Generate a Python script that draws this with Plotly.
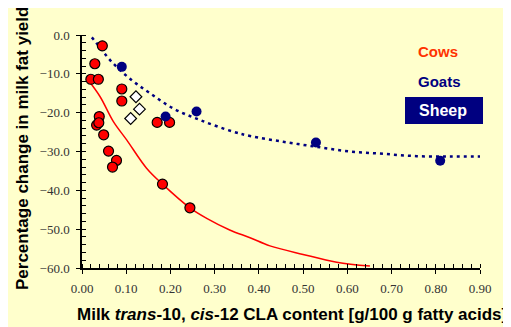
import plotly.graph_objects as go

# Cows
cows_x = [0.046, 0.029, 0.020, 0.037, 0.090, 0.090, 0.039, 0.033, 0.038, 0.049, 0.060,
          0.078, 0.069, 0.182, 0.244, 0.170, 0.198]
cows_y = [-2.8, -7.4, -11.4, -11.4, -13.9, -17.0, -21.0, -23.2, -22.6, -25.7, -29.9,
          -32.3, -34.0, -38.4, -44.5, -22.5, -22.5]
# Goats
goats_x = [0.090, 0.189, 0.259, 0.529, 0.810]
goats_y = [-8.2, -21.0, -19.7, -27.7, -32.4]
# Sheep
sheep_x = [0.122, 0.130, 0.110]
sheep_y = [-15.9, -19.1, -21.5]
# Cow fitted curve
cowfit_x = [0.014, 0.041, 0.071, 0.101, 0.146, 0.182, 0.244, 0.282, 0.334, 0.380, 0.425, 0.500, 0.576, 0.651]
cowfit_y = [-11.6, -15.9, -22.3, -27.0, -34.3, -38.4, -44.5, -47.2, -50.2, -52.2, -54.3, -56.5, -58.5, -59.5]
# Goat fitted curve
goatfit_x = [0.012, 0.033, 0.067, 0.112, 0.154, 0.206, 0.267, 0.342, 0.380, 0.455, 0.531, 0.606, 0.681, 0.757, 0.832, 0.900]
goatfit_y = [0.8, -2.1, -6.9, -11.6, -15.0, -18.9, -21.9, -24.9, -26.0, -27.5, -28.8, -30.0, -30.6, -31.2, -31.3, -31.3]

x_ticks = [0.0, 0.1, 0.2, 0.3, 0.4, 0.5, 0.6, 0.7, 0.8, 0.9]
y_ticks = [0, -10, -20, -30, -40, -50, -60]

BG = "#FFFFCC"
RED = "#FF0000"
NAVY = "#000080"

fig = go.Figure()
fig.add_trace(go.Scatter(x=cowfit_x, y=cowfit_y, mode="lines", line=dict(color=RED, width=1.5, shape="spline"),
                         hoverinfo="skip"))
fig.add_trace(go.Scatter(x=goatfit_x, y=goatfit_y, mode="lines",
                         line=dict(color=NAVY, width=2.5, dash="3px,4px", shape="spline"),
                         hoverinfo="skip"))
fig.add_trace(go.Scatter(x=cows_x, y=cows_y, mode="markers",
                         marker=dict(size=10, color=RED, line=dict(color="black", width=1.2))))
fig.add_trace(go.Scatter(x=goats_x, y=goats_y, mode="markers",
                         marker=dict(size=10, color=NAVY, line=dict(color=NAVY, width=0))))
fig.add_trace(go.Scatter(x=sheep_x, y=sheep_y, mode="markers",
                         marker=dict(size=9, symbol="diamond", color="white", line=dict(color="black", width=1.2))))
# overlay axes for ticks crossing the axis line
fig.add_trace(go.Scatter(x=[0], y=[0], xaxis="x2", yaxis="y2", mode="markers",
                         marker=dict(opacity=0), hoverinfo="skip", showlegend=False))

tickfont = dict(family="Liberation Serif, Times New Roman, serif", size=13, color="#333333")

fig.update_layout(
    width=511, height=327,
    margin=dict(l=74, r=39, t=27, b=67),
    paper_bgcolor=BG, plot_bgcolor=BG,
    showlegend=False,
    xaxis=dict(range=[0, 0.9], tickvals=x_ticks, tickformat=".2f", showgrid=False, zeroline=False,
               showline=True, linecolor="black", linewidth=1.5, automargin=False,
               ticks="outside", ticklen=4, tickcolor="black", tickwidth=1.2,
               minor=dict(dtick=0.02, ticks="inside", ticklen=4, tickcolor="black", tickwidth=1),
               tickfont=tickfont, ticklabelstandoff=4),
    yaxis=dict(range=[-60, 0], tickvals=y_ticks, tickformat=".1f", showgrid=False, zeroline=False,
               showline=True, linecolor="black", linewidth=1.5, automargin=False,
               ticks="outside", ticklen=4, tickcolor="black", tickwidth=1.2,
               minor=dict(dtick=2, ticks="inside", ticklen=4, tickcolor="black", tickwidth=1),
               tickfont=tickfont, ticklabelstandoff=4),
    xaxis2=dict(overlaying="x", matches="x", tickvals=x_ticks, ticks="inside", ticklen=4, tickcolor="black",
                tickwidth=1.2, showticklabels=False, showgrid=False, zeroline=False, showline=False, side="bottom",
                anchor="y", automargin=False),
    yaxis2=dict(overlaying="y", matches="y", tickvals=y_ticks, ticks="inside", ticklen=4, tickcolor="black",
                tickwidth=1.2, showticklabels=False, showgrid=False, zeroline=False, showline=False, side="left",
                anchor="x", automargin=False),
)

fig.add_annotation(text="Percentage change in milk fat yield", xref="paper", yref="paper",
                   x=-(82 - 22) / 398, y=(268 - 149) / 233, xanchor="center", yanchor="middle", textangle=-90,
                   showarrow=False,
                   font=dict(family="Liberation Sans", size=17, color="black", weight="bold"))
fig.add_annotation(text="Milk <i>trans</i>-10, <i>cis</i>-12 CLA content [g/100 g fatty acids]",
                   xref="paper", yref="paper", x=(292 - 82) / 398, y=-(314 - 268) / 233, xanchor="center",
                   yanchor="middle", showarrow=False,
                   font=dict(family="Liberation Sans", size=17, color="black", weight="bold"))

fig.add_annotation(text="Cows", xref="paper", yref="paper", x=(438 - 82) / 398, y=(268 - 51) / 233,
                   showarrow=False, xanchor="center", yanchor="middle",
                   font=dict(family="Liberation Sans", size=15, color="#FF3300", weight="bold"))
fig.add_annotation(text="Goats", xref="paper", yref="paper", x=(439 - 82) / 398, y=(268 - 81) / 233,
                   showarrow=False, xanchor="center", yanchor="middle",
                   font=dict(family="Liberation Sans", size=15, color=NAVY, weight="bold"))
fig.add_shape(type="rect", xref="paper", yref="paper",
              x0=(405 - 82) / 398, x1=(483 - 82) / 398, y0=(268 - 124) / 233, y1=(268 - 97) / 233,
              fillcolor=NAVY, line=dict(width=0), layer="below")
fig.add_annotation(text="Sheep", xref="paper", yref="paper", x=(443 - 82) / 398, y=(268 - 110.5) / 233,
                   showarrow=False, xanchor="center", yanchor="middle",
                   font=dict(family="Liberation Sans", size=16, color="white", weight="bold"))

fig.write_html("out.html")
